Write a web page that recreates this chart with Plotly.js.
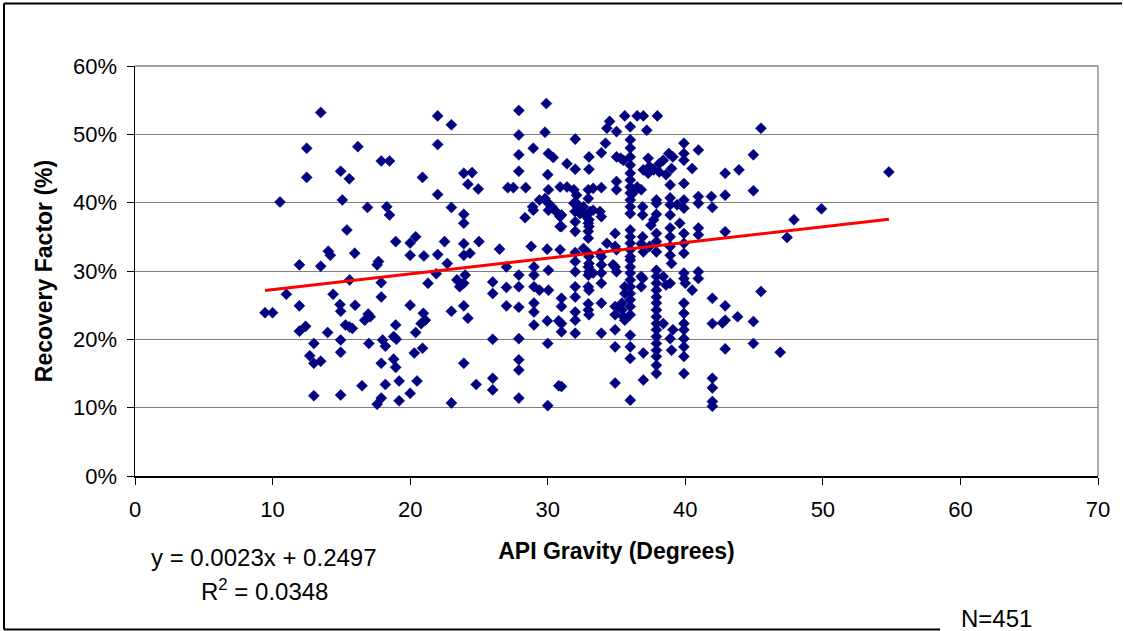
<!DOCTYPE html>
<html>
<head>
<meta charset="utf-8">
<script src="https://cdn.plot.ly/plotly-3.0.1.min.js"></script>
<style>
  html, body { margin: 0; padding: 0; background: #ffffff; }
  #chart { width: 1124px; height: 631px; }
</style>
</head>
<body>
<div id="chart"></div>
<script>
// API gravity (degrees) of each reservoir
const apiGravity = [
  9.45,10.0,10.54,11.0,11.95,11.95,11.95,12.4,13.0,12.7,
  13.0,13.5,13.0,13.5,13.5,12.48,12.48,14.95,15.58,16.2,
  15.07,16.9,17.9,18.5,18.3,18.5,15.4,14.05,14.2,15.97,
  18.95,20.0,20.4,20.0,21.0,22.0,20.9,22.0,23.0,22.0,
  23.0,22.0,23.9,24.2,23.9,23.9,23.9,23.9,22.5,17.6,
  17.7,22.7,15.6,17.9,14.4,17.9,14.9,14.95,16.0,16.95,
  16.7,17.1,15.3,15.8,15.6,14.0,14.95,14.95,17.0,18.0,
  18.2,18.95,18.8,19.0,20.4,20.0,20.96,21.1,20.8,21.3,
  23.0,23.9,24.2,17.9,18.8,18.95,20.3,20.9,19.2,18.2,
  16.5,20.5,20.0,19.2,17.9,17.6,14.95,23.0,23.9,21.9,
  23.4,23.9,23.6,
  24.5,24.95,25.0,24.35,26.5,27.9,29.9,27.9,29.8,32.0,
  28.95,27.9,30.05,30.4,27.9,31.4,32.0,30.0,33.0,33.0,
  33.9,34.2,34.5,34.3,35.0,35.6,36.0,36.5,36.95,37.2,37.97,
  36,36,36,36,36,36,36,36,36,36,36,
  35.0,35.3,35.5,35.0,35.0,36.5,36.8,36.2,36.95,37.3,
  37.7,37.4,37.3,38.1,38.4,38.8,39.1,38.1,38.6,39.0,
  38.9,37.9,38.9,38.9,37.9,36.9,36.9,37.7,37.5,27.1,
  27.5,28.4,28.35,28.9,28.95,29.4,29.8,30.05,30.05,30.05,
  30.9,31.4,31.9,32.1,30.3,30.6,30.9,30.9,31.9,32.2,
  32.6,31.99,32.35,32.7,32.0,32.0,32.95,33.3,33.9,32.95,
  33.1,33.3,33.8,33.9,32.95,32.95,32.95,34.3,34.9,30.9,
  32.0,32.95,33.8,28.8,29.96,35.0,36.0,36.0,36.0,36.0,
  36.0,36.9,36.8,37.4,37.9,37.9,38.9,38.9,38.9,38.9,
  39.6,37.9,38.9,39.4,
  31.0,31.0,33.0,33.0,32.6,32.0,32.0,33.0,33.0,33.0,
  33.3,33.9,33.9,33.9,33.9,34.9,34.75,35.0,
  36,36,36,36,36,36,36,36,36,
  35.6,35.6,35.4,35.4,35.6,34.9,34.9,36.95,36.8,36.8,37.9,
  37.9,37.9,37.9,37.9,37.9,37.9,37.9,37.9,37.9,37.9,37.9,37.9,37.9,37.9,37.9,37.9,
  38.4,38.9,38.4,38.9,39.0,36.95,36.0,36.0,36.95,36.0,
  34.9,36.0,34.9,34.9,33.9,32.95,33.0,32.0,32.0,33.0,
  33.9,31.0,31.0,31.0,31.0,32.0,31.0,39.0,
  39.9,39.9,39.9,39.9,39.9,40.5,
  39.9,39.9,39.9,39.9,39.9,39.9,39.9,39.9,
  24.0,24.8,26.0,26.0,27.0,27.0,27.9,27.9,27.9,29.0,
  29.0,29.0,29.0,29.0,29.0,29.4,30.05,30.05,29.97,30.8,
  26.0,27.9,30.0,27.9,27.9,26.0,26.0,27.9,30.0,30.8,
  27.0,32.95,32.95,32.95,34.9,32.0,32.0,32.95,35.5,38.6,
  39.1,36.9,
  45.5,44.95,43.9,42.9,44.95,42.9,41.9,41.97,40.95,40.5,
  39.9,39.9,39.9,39.9,39.9,39.9,
  40.95,40.95,40.95,40.95,42.9,49.9,47.9,47.4,54.8,
  40.95,40.95,40.0,45.5,41.97,42.9,43.8,44.95,41.97,42.7,
  42.9,44.95,42.9,46.9,41.97,41.97,41.97,41.97
];

// Recovery factor (%) of the same reservoirs
const recoveryFactor = [
  23.9,23.9,40.1,26.6,30.9,24.9,21.2,21.9,19.4,17.6,
  16.5,16.8,11.75,30.7,53.2,47.96,43.7,44.6,43.5,48.2,
  40.4,39.3,46.1,46.1,39.4,38.2,36.0,32.9,32.3,32.6,
  34.3,34.1,35.0,32.3,32.2,32.4,43.7,41.2,39.3,52.7,
  51.4,48.5,44.3,42.7,38.3,37.0,34.0,32.3,34.3,30.9,
  31.4,31.1,28.7,28.3,26.6,26.2,25.1,24.1,25.0,23.7,
  22.8,23.3,22.1,21.6,21.8,21.0,19.9,18.1,19.4,19.9,
  19.0,22.1,20.4,20.0,21.0,25.0,23.8,22.8,22.3,28.2,
  24.1,24.9,23.1,16.5,17.1,15.9,18.0,18.7,13.9,13.4,
  13.2,13.9,12.1,11.0,11.4,10.5,11.85,10.7,16.5,29.6,
  28.7,28.2,27.7,
  44.4,42.0,34.3,32.6,33.2,53.5,54.5,49.9,50.3,49.3,
  47.96,47.0,47.2,46.6,44.6,45.7,44.9,44.1,46.7,44.9,
  47.3,48.7,51.9,50.9,50.4,52.7,51.1,52.7,52.7,50.6,52.7,
  49.2,48.0,46.7,45.5,44.3,43.3,42.3,41.4,40.4,39.4,38.4,
  46.7,46.5,46.2,43.1,41.9,42.3,41.9,41.4,44.8,44.3,
  44.8,45.3,46.5,45.7,46.2,47.2,46.7,44.5,44.1,45.0,
  42.6,39.9,39.7,38.2,38.3,39.4,38.2,37.5,36.7,42.2,
  42.2,42.2,37.8,39.4,38.9,40.4,40.6,41.9,39.9,38.9,
  42.3,42.3,41.9,41.1,39.4,38.7,37.95,36.5,39.9,39.7,
  39.4,38.7,38.4,38.2,37.2,35.8,41.9,42.1,42.2,40.6,
  38.7,38.9,38.7,37.95,37.0,35.8,34.8,34.05,35.5,33.1,
  32.7,32.6,32.6,33.6,33.2,33.1,36.0,35.0,34.05,33.1,
  32.1,35.0,34.0,33.6,34.3,32.8,36.3,35.0,33.6,32.3,
  37.0,40.4,40.7,39.7,
  38.2,36.5,37.5,36.5,33.3,31.4,29.9,32.1,31.1,29.9,
  29.7,32.1,30.9,29.7,28.2,33.6,30.9,29.9,
  31.6,30.6,29.7,28.7,27.7,26.7,25.8,24.8,23.6,
  27.7,26.7,25.3,24.3,22.8,24.8,23.6,32.8,29.2,27.7,35.5,
  30.1,29.2,28.2,27.2,26.2,25.3,24.3,23.3,22.3,21.4,20.4,19.4,18.4,17.5,16.2,15.0,
  29.2,28.2,22.3,20.1,18.4,18.0,18.9,17.2,14.05,11.1,
  13.6,20.6,21.4,18.9,20.9,24.3,23.6,27.7,26.2,27.2,
  25.3,26.0,24.8,22.3,21.1,20.9,13.1,31.1,
  35.5,34.05,32.6,29.7,28.9,27.2,
  25.3,23.8,22.3,21.4,20.1,18.9,17.5,15.0,
  29.4,13.4,28.4,26.7,27.6,24.9,29.4,27.7,24.7,30.6,
  29.4,27.7,25.3,24.0,22.1,27.2,30.1,27.2,22.7,22.7,
  20.0,20.1,19.4,17.0,15.5,14.3,12.6,11.4,10.3,13.2,
  30.6,30.6,29.4,27.7,30.6,24.0,22.8,25.2,23.3,27.95,
  21.4,28.9,
  50.9,47.0,44.8,44.3,41.75,41.1,40.9,39.3,47.7,45.0,
  48.7,47.2,46.2,42.8,40.4,39.2,
  40.9,39.9,36.3,35.3,35.75,39.1,37.5,34.9,44.5,
  29.9,28.9,28.2,27.0,26.0,24.9,23.3,22.6,22.3,22.4,
  22.8,19.4,18.6,18.1,14.3,12.9,10.9,10.2
];

// Linear trend fitted to the reservoirs (fraction = slope * API + intercept)
const trendSlope = 0.0023;
const trendIntercept = 0.2497;
const trendR2 = 0.0348;
const sampleCount = 451;

const xTicks = [0, 10, 20, 30, 40, 50, 60, 70];
const yTicks = [0, 10, 20, 30, 40, 50, 60];
const yTickLabels = ['0%', '10%', '20%', '30%', '40%', '50%', '60%'];

const xMin = Math.min(...apiGravity);
const xMax = Math.max(...apiGravity);
const trendX = [xMin, xMax];
const trendY = trendX.map(x => (trendSlope * x + trendIntercept) * 100);

const FONT = 'Liberation Sans, Arial, sans-serif';

// plot area in pixels: left 135, right 1098, top 66, bottom 476
const L = 135, R = 1098, T = 66, B = 476;
const px = v => (v - L) / (R - L);
const py = v => (B - v) / (B - T);

const traces = [
  {
    type: 'scatter',
    mode: 'markers',
    x: apiGravity,
    y: recoveryFactor,
    marker: { symbol: 'diamond', size: 8.5, color: '#000080', line: { color: '#000080', width: 0.5 } },
    hoverinfo: 'x+y',
    showlegend: false
  },
  {
    type: 'scatter',
    mode: 'lines',
    x: trendX,
    y: trendY,
    line: { color: '#ff0000', width: 3 },
    hoverinfo: 'skip',
    showlegend: false
  }
];

const layout = {
  width: 1124,
  height: 631,
  margin: { l: L, r: 1124 - R, t: T, b: 631 - B, pad: 0 },
  paper_bgcolor: '#ffffff',
  plot_bgcolor: '#ffffff',
  font: { family: FONT, color: '#000000', size: 22 },
  showlegend: false,
  xaxis: {
    range: [0, 70],
    tickvals: xTicks,
    ticktext: xTicks.map(String),
    showgrid: false,
    zeroline: false,
    showline: true,
    linecolor: '#000000',
    linewidth: 1.5,
    ticks: 'outside',
    ticklen: 7,
    tickwidth: 1,
    tickcolor: '#000000',
    ticklabelstandoff: 6,
    tickfont: { family: FONT, size: 22, color: '#000000' },
    title: { text: 'API Gravity (Degrees)', font: { family: FONT, size: 23, color: '#000000', weight: 'bold' }, standoff: 22 },
    automargin: false,
    fixedrange: true
  },
  yaxis: {
    range: [0, 60],
    tickvals: yTicks,
    ticktext: yTickLabels,
    showgrid: true,
    gridcolor: '#808080',
    gridwidth: 1,
    zeroline: false,
    showline: true,
    linecolor: '#000000',
    linewidth: 1.5,
    ticks: 'outside',
    ticklen: 7,
    tickwidth: 1,
    tickcolor: '#000000',
    ticklabelstandoff: 5,
    tickfont: { family: FONT, size: 22, color: '#000000' },
    title: { text: 'Recovery Factor (%)', font: { family: FONT, size: 23, color: '#000000', weight: 'bold' }, standoff: 14 },
    automargin: false,
    fixedrange: true
  },
  shapes: [
    // plot area frame: top and right edges
    { type: 'line', xref: 'paper', yref: 'paper', x0: 0, x1: 1, y0: 1, y1: 1, line: { color: '#808080', width: 1.3 }, layer: 'below' },
    { type: 'line', xref: 'paper', yref: 'paper', x0: 1, x1: 1, y0: 0, y1: 1, line: { color: '#808080', width: 1.3 }, layer: 'below' },
    // chart frame: top, left and bottom rules
    { type: 'line', xref: 'paper', yref: 'paper', x0: px(4), x1: px(1122), y0: py(3.5), y1: py(3.5), line: { color: '#000000', width: 2 } },
    { type: 'line', xref: 'paper', yref: 'paper', x0: px(4), x1: px(4), y0: py(3.5), y1: py(629.5), line: { color: '#000000', width: 2 } },
    { type: 'line', xref: 'paper', yref: 'paper', x0: px(4), x1: px(940), y0: py(629.5), y1: py(629.5), line: { color: '#000000', width: 2 } }
  ],
  annotations: [
    {
      xref: 'paper', yref: 'paper', x: px(264), y: py(557),
      text: 'y = ' + trendSlope.toFixed(4) + 'x + ' + trendIntercept.toFixed(4),
      showarrow: false, xanchor: 'center', yanchor: 'middle',
      font: { family: FONT, size: 24, color: '#000000' }
    },
    {
      xref: 'paper', yref: 'paper', x: px(264), y: py(590),
      text: 'R<sup>2</sup> = ' + trendR2.toFixed(4),
      showarrow: false, xanchor: 'center', yanchor: 'middle',
      font: { family: FONT, size: 24, color: '#000000' }
    },
    {
      xref: 'paper', yref: 'paper', x: px(996), y: py(618),
      text: 'N=' + sampleCount,
      showarrow: false, xanchor: 'center', yanchor: 'middle',
      font: { family: FONT, size: 24, color: '#000000' }
    }
  ]
};

Plotly.newPlot('chart', traces, layout, { staticPlot: true, displayModeBar: false });
</script>
</body>
</html>
